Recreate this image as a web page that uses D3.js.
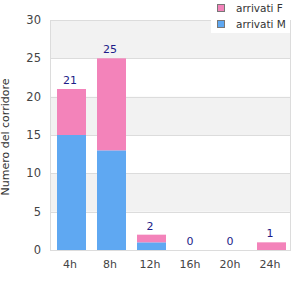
<!DOCTYPE html>
<html>
<head>
<meta charset="utf-8">
<script src="https://cdn.jsdelivr.net/npm/d3@7"></script>
<style>
  body { margin: 0; background: #fff; }
  svg { display: block; font-family: 'DejaVu Sans', sans-serif; }
</style>
</head>
<body>
<script>
var categories = ['4h', '8h', '12h', '16h', '20h', '24h'];
var arrivatiM = [15, 13, 1, 0, 0, 0];
var arrivatiF = [6, 12, 1, 0, 0, 1];
var yTicks = [0, 5, 10, 15, 20, 25, 30];
var seriesNames = ['arrivati F', 'arrivati M'];

var w = 300, h = 300;
var plotLeft = 50, plotRight = 290, plotTop = 20, plotBottom = 250;
var pink = '#f383ba', blue = '#5fa8f2';

var dataset = categories.map(function(c, i){
  return { cat: c, m: arrivatiM[i], f: arrivatiF[i] };
});

var svg = d3.select('body').append('svg')
  .attr('width', w)
  .attr('height', h);

var xScale = d3.scaleBand()
  .domain(categories)
  .range([plotLeft, plotRight]);

var yScale = d3.scaleLinear()
  .domain([0, 30])
  .range([plotBottom, plotTop]);

// alternating bands
var bands = [[5, 10], [15, 20], [25, 30]];
svg.selectAll('rect.band')
  .data(bands)
  .enter()
  .append('rect')
  .attr('class', 'band')
  .attr('x', plotLeft)
  .attr('width', plotRight - plotLeft)
  .attr('y', function(d){ return yScale(d[1]); })
  .attr('height', function(d){ return yScale(d[0]) - yScale(d[1]); })
  .attr('fill', '#f2f2f2');

// grid lines
svg.selectAll('line.grid')
  .data(yTicks)
  .enter()
  .append('line')
  .attr('x1', plotLeft)
  .attr('x2', plotRight)
  .attr('y1', function(d){ return Math.round(yScale(d)) + 0.5; })
  .attr('y2', function(d){ return Math.round(yScale(d)) + 0.5; })
  .attr('stroke', '#dcdcdc');

svg.append('line')
  .attr('x1', plotLeft + 0.5).attr('x2', plotLeft + 0.5)
  .attr('y1', plotTop).attr('y2', plotBottom + 1)
  .attr('stroke', '#dcdcdc');
svg.append('line')
  .attr('x1', plotRight + 0.5).attr('x2', plotRight + 0.5)
  .attr('y1', plotTop).attr('y2', plotBottom + 1)
  .attr('stroke', '#dcdcdc');

var bw = xScale.bandwidth() * 0.725;
var bx = function(d){ return xScale(d.cat) + xScale.bandwidth() * 0.175; };

svg.selectAll('rect.m')
  .data(dataset)
  .enter()
  .append('rect')
  .attr('class', 'm')
  .attr('x', bx)
  .attr('width', bw)
  .attr('y', function(d){ return yScale(d.m); })
  .attr('height', function(d){ return yScale(0) - yScale(d.m); })
  .attr('fill', blue);

svg.selectAll('rect.f')
  .data(dataset)
  .enter()
  .append('rect')
  .attr('class', 'f')
  .attr('x', bx)
  .attr('width', bw)
  .attr('y', function(d){ return yScale(d.m + d.f); })
  .attr('height', function(d){ return yScale(d.m) - yScale(d.m + d.f); })
  .attr('fill', pink);

// totals
svg.selectAll('text.total')
  .data(dataset)
  .enter()
  .append('text')
  .attr('class', 'total')
  .text(function(d){ return d.m + d.f; })
  .attr('x', function(d){ return xScale(d.cat) + xScale.bandwidth() / 2; })
  .attr('y', function(d){ return yScale(d.m + d.f) - 5; })
  .attr('text-anchor', 'middle')
  .attr('font-size', '11px')
  .attr('fill', '#1c1c88');

// y axis labels
svg.selectAll('text.ytick')
  .data(yTicks)
  .enter()
  .append('text')
  .attr('class', 'ytick')
  .text(function(d){ return d; })
  .attr('x', 41)
  .attr('y', function(d){ return yScale(d) + 4; })
  .attr('text-anchor', 'end')
  .attr('font-size', '11.5px')
  .attr('fill', '#444');

// x axis labels
svg.selectAll('text.xtick')
  .data(categories)
  .enter()
  .append('text')
  .attr('class', 'xtick')
  .text(function(d){ return d; })
  .attr('x', function(d){ return xScale(d) + xScale.bandwidth() / 2; })
  .attr('y', 268)
  .attr('text-anchor', 'middle')
  .attr('font-size', '11px')
  .attr('fill', '#444');

svg.append('text')
  .text('Numero del corridore')
  .attr('transform', 'translate(9,137) rotate(-90)')
  .attr('text-anchor', 'middle')
  .attr('font-size', '11px')
  .attr('fill', '#333');

// legend
var legend = svg.append('g');
legend.append('rect')
  .attr('x', 211).attr('y', 0)
  .attr('width', 79).attr('height', 33)
  .attr('fill', '#fff');
var items = legend.selectAll('g.item')
  .data(seriesNames)
  .enter()
  .append('g')
  .attr('transform', function(d, i){ return 'translate(0,' + (i * 16) + ')'; });
items.append('rect')
  .attr('x', 217.5).attr('y', 4.5)
  .attr('width', 7).attr('height', 7)
  .attr('fill', function(d, i){ return i === 0 ? pink : blue; })
  .attr('stroke', '#777');
items.append('text')
  .text(function(d){ return d; })
  .attr('x', 236)
  .attr('y', 12)
  .attr('font-size', '10.5px')
  .attr('fill', '#333');
</script>
</body>
</html>
